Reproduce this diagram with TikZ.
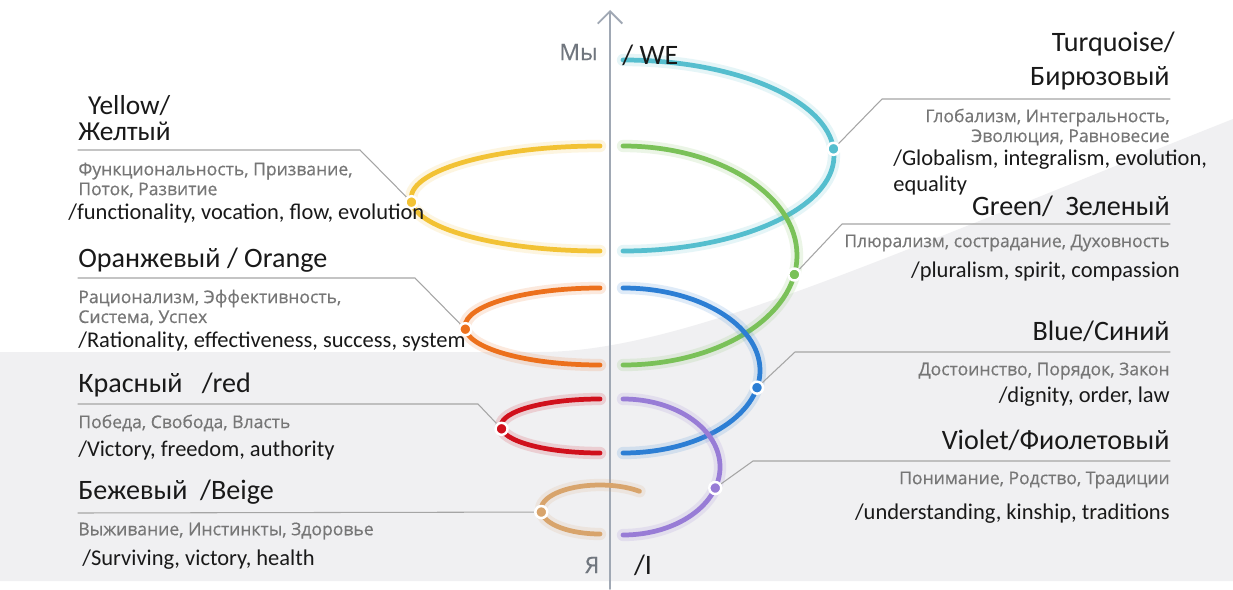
\documentclass[tikz,border=0pt]{standalone}
\usepackage{fontspec}
\setmainfont{Carlito}
\newfontfamily\descfont{Open Sans}[FakeBold=0.5]
\usetikzlibrary{arrows.meta,calc}

\definecolor{turq}{RGB}{85,190,206}
\definecolor{yell}{RGB}{242,194,52}
\definecolor{grn}{RGB}{122,193,88}
\definecolor{orng}{RGB}{236,112,28}
\definecolor{blu}{RGB}{44,126,212}
\definecolor{rd}{RGB}{208,16,28}
\definecolor{vio}{RGB}{152,124,214}
\definecolor{beig}{RGB}{216,164,108}
\definecolor{axisgray}{RGB}{160,168,180}
\definecolor{leadgray}{RGB}{165,165,165}
\definecolor{descgray}{RGB}{118,118,118}
\definecolor{bggray}{RGB}{240,240,242}

\begin{document}
\begin{tikzpicture}[x=0.02cm,y=0.02cm,line cap=round,
    ring/.style={draw=#1,line width=2.7pt,preaction={draw=#1,line width=7pt,opacity=0.15}},
    dot/.style={circle,fill=#1,draw=white,line width=1.4pt,inner sep=0pt,minimum size=0.24cm},
    lead/.style={draw=leadgray,line width=0.6pt},
    title/.style={font=\fontsize{16}{18}\selectfont,text=black!90,inner sep=0pt},
    desc/.style={font=\descfont\fontsize{10}{11.3}\selectfont,text=descgray,inner sep=0pt},
    eng/.style={font=\fontsize{12.8}{15}\selectfont,text=black!90,inner sep=0pt}]
\useasboundingbox (0,0) rectangle (1233,589);

% background
\fill[white] (0,0) rectangle (1233,589);
\fill[bggray] (0,8) -- (0,237) -- (540,237) .. controls (680,237) and (880,330) .. (1233,470) -- (1233,8) -- cycle;

% axis
\coordinate (axB) at (610,0);
\coordinate (axT) at (610,579);
\draw[axisgray,line width=1.1pt,-{Straight Barb[length=7pt,width=14pt,line width=1.1pt]}] (axB) -- (axT);

% centres of the half rings
\coordinate (cTq) at (623,433.5);
\coordinate (cYe) at (600,390.5);
\coordinate (cGr) at (623,333.5);
\coordinate (cOr) at (600,262.5);
\coordinate (cBl) at (623,218.5);
\coordinate (cRd) at (600,163);
\coordinate (cVi) at (623,122);
\coordinate (cBe) at (600,79.5);

% the spiral
\draw[ring=turq] (623,529) arc[start angle=90,end angle=-90,x radius=211,y radius=95.5];
\draw[ring=grn] (623,443) arc[start angle=90,end angle=-90,x radius=174,y radius=109.5];
\draw[ring=blu] (623,301) arc[start angle=90,end angle=-90,x radius=137,y radius=82.5];
\draw[ring=vio] (623,190) arc[start angle=90,end angle=-90,x radius=97,y radius=68];
\draw[ring=yell] (600,443) arc[start angle=90,end angle=270,x radius=189,y radius=52.5];
\draw[ring=orng] (600,301) arc[start angle=90,end angle=270,x radius=135,y radius=38.5];
\draw[ring=rd] (600,190) arc[start angle=90,end angle=270,x radius=99,y radius=27];
\draw[ring=beig] ($(cBe)+(48:59 and 24.5)$) arc[start angle=48,end angle=270,x radius=59,y radius=24.5];

% dots on the rings
\coordinate (dTq) at ($(cTq)+(4:211 and 95.5)$);
\coordinate (dGr) at ($(cGr)+(-10:174 and 109.5)$);
\coordinate (dBl) at ($(cBl)+(-12:137 and 82.5)$);
\coordinate (dVi) at ($(cVi)+(-18:97 and 68)$);
\coordinate (dYe) at ($(cYe)+(184:189 and 52.5)$);
\coordinate (dOr) at ($(cOr)+(184:135 and 38.5)$);
\coordinate (dRd) at ($(cRd)+(186:99 and 27)$);
\coordinate (dBe) at ($(cBe)+(186:59 and 24.5)$);

% leader lines
\coordinate (kTq) at (882,490); \coordinate (eTq) at (1170,490);
\coordinate (kGr) at (842,365); \coordinate (eGr) at (1170,365);
\coordinate (kBl) at (795,237); \coordinate (eBl) at (1170,237);
\coordinate (kVi) at (753,128); \coordinate (eVi) at (1170,128);
\coordinate (eYe) at (78,439); \coordinate (kYe) at (360,439);
\coordinate (eOr) at (78,311); \coordinate (kOr) at (415,311);
\coordinate (eRd) at (78,185); \coordinate (kRd) at (478,185);
\coordinate (eBe) at (78,76);
\draw[lead] (dTq) -- (kTq) -- (eTq);
\draw[lead] (dGr) -- (kGr) -- (eGr);
\draw[lead] (dBl) -- (kBl) -- (eBl);
\draw[lead] (dVi) -- (kVi) -- (eVi);
\draw[lead] (eYe) -- (kYe) -- (dYe);
\draw[lead] (eOr) -- (kOr) -- (dOr);
\draw[lead] (eRd) -- (kRd) -- (dRd);
\draw[lead] (eBe) -- (dBe);
\foreach \d/\c in {dTq/turq,dGr/grn,dBl/blu,dVi/vio,dYe/yell,dOr/orng,dRd/rd,dBe/beig}
  \node[dot=\c] (\d-pt) at (\d) {};

% axis ends
\node[desc,font=\descfont\fontsize{13}{15}\selectfont,text=axisgray!70!black,anchor=east] (we) at (598,537) {Мы};
\node[title,anchor=west] (weEn) at (622,534) {/ WE};
\node[desc,font=\descfont\fontsize{13}{15}\selectfont,text=axisgray!70!black] (me) at (592,24) {Я};
\node[title] (meEn) at (643,24) {/I};

% left column
\node[title,anchor=west,align=left,font=\fontsize{15.6}{15.2}\selectfont] (yeT) at (78,471) {\hspace*{5.6pt}Yellow/\\Желтый};
\node[desc,anchor=west,align=left] (yeD) at (78,409) {Функциональность, Призвание,\\Поток, Развитие};
\node[eng,anchor=west] (yeE) at (68,375) {/functionality, vocation, flow, evolution};

\node[title,anchor=west] (orT) at (78,329) {Оранжевый / Orange};
\node[desc,anchor=west,align=left] (orD) at (78,281.5) {Рационализм, Эффективность,\\Система, Успех};
\node[eng,anchor=west] (orE) at (78,247) {/Rationality, effectiveness, success, system};

\node[title,anchor=west] (rdT) at (78,204) {Красный \ \ /red};
\node[desc,anchor=west] (rdD) at (78,166) {Победа, Свобода, Власть};
\node[eng,anchor=west] (rdE) at (78,138) {/Victory, freedom, authority};

\node[title,anchor=west] (beT) at (78,97) {Бежевый \ /Beige};
\node[desc,anchor=west] (beD) at (78,58) {Выживание, Инстинкты, Здоровье};
\node[eng,anchor=west] (beE) at (82,29) {/Surviving, victory, health};

% right column
\node[title,anchor=east] (tqT1) at (1175,545) {Turquoise/};
\node[title,anchor=east] (tqT2) at (1170,511) {Бирюзовый};
\node[desc,anchor=east,align=right] (tqD) at (1170,462) {Глобализм, Интегральность,\\Эволюция, Равновесие};
\node[eng,anchor=west] (tqE1) at (893,429) {/Globalism, integralism, evolution,};
\node[eng,anchor=west] (tqE2) at (893,403) {equality};

\node[title,anchor=east] (grT) at (1170,383) {Green/ \ Зеленый};
\node[desc,anchor=east] (grD) at (1170,346) {Плюрализм, сострадание, Духовность};
\node[eng,anchor=east] (grE) at (1180,317) {/pluralism, spirit, compassion};

\node[title,anchor=east] (blT) at (1170,258) {Blue/Синий};
\node[desc,anchor=east] (blD) at (1170,218) {Достоинство, Порядок, Закон};
\node[eng,anchor=east] (blE) at (1170,192) {/dignity, order, law};

\node[title,anchor=east] (viT) at (1170,149) {Violet/Фиолетовый};
\node[desc,anchor=east] (viD) at (1170,109) {Понимание, Родство, Традиции};
\node[eng,anchor=east] (viE) at (1170,75) {/understanding, kinship, traditions};
\end{tikzpicture}
\end{document}
